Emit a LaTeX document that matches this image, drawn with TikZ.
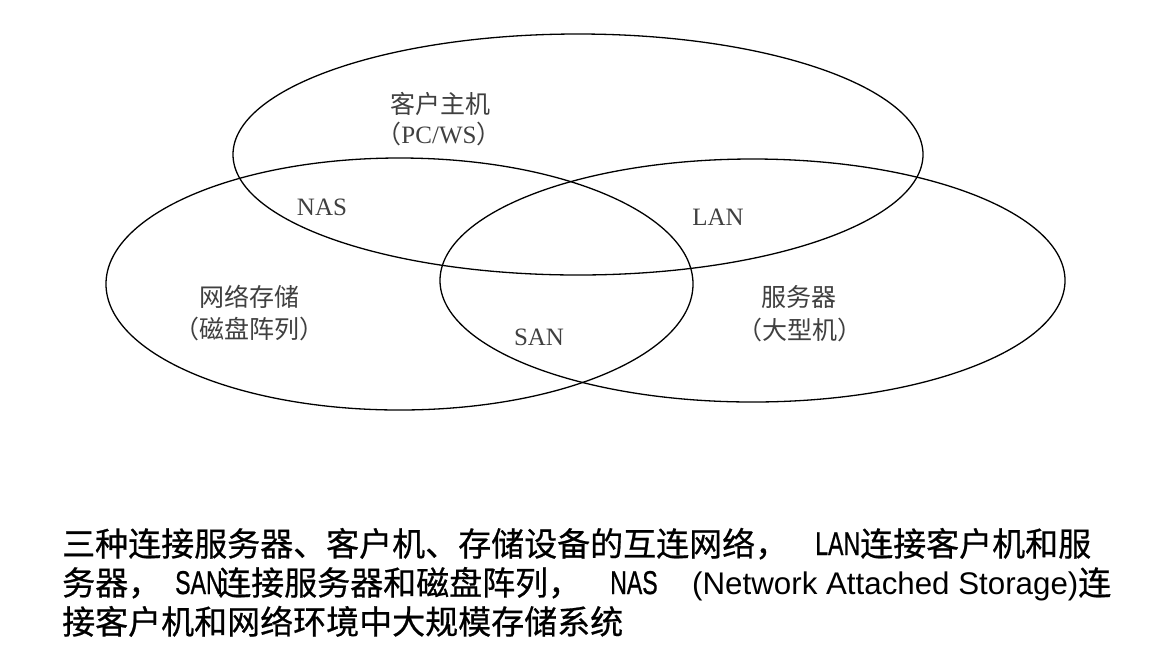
\documentclass[tikz,border=0pt]{standalone}
\usepackage{fontspec}
\usepackage{graphicx}
\setmainfont{Liberation Serif}
\newfontfamily\cjk{Noto Sans CJK SC}
\newfontfamily\cjkcap{Noto Sans CJK SC}[FakeBold=0.6]
\newfontfamily\arialf{Liberation Sans}
\newfontfamily\arialn{Liberation Sans}[FakeBold=0.8]
\newcommand\nlat[1]{\scalebox{0.7}[1]{\arialn\fontsize{33}{33}\selectfont #1}}
\begin{document}
\begin{tikzpicture}[x=1pt,y=-1pt,
  ell/.style={draw=black, line width=1.3pt},
  lbl/.style={anchor=base, inner sep=0pt, text=black!75, font=\fontsize{25}{25}\selectfont},
  capt/.style={anchor=base west, inner sep=0pt, text=black, font=\fontsize{33}{33}\selectfont}]
\useasboundingbox (0,0) rectangle (1155,657);
\fill[white] (0,0) rectangle (1155,657);
% three ellipses
\draw[ell] (578,154.5) ellipse [x radius=345, y radius=120.5];
\draw[ell] (399.5,284) ellipse [x radius=293.5, y radius=126];
\draw[ell] (752.5,280.5) ellipse [x radius=312.5, y radius=121.5];
% labels
\node[lbl] (client) at (440,113) {\cjk 客户主机};
\node[lbl] (clientsub) at (439,143) {{\cjk （}PC/WS{\cjk ）}};
\node[lbl] (nas) at (322,215) {NAS};
\node[lbl] (lan) at (718,225) {LAN};
\node[lbl] (san) at (539,345) {SAN};
\node[lbl] (storage) at (249,306) {\cjk 网络存储};
\node[lbl] (storagesub) at (249,338) {\cjk （磁盘阵列）};
\node[lbl] (server) at (799,306) {\cjk 服务器};
\node[lbl] (serversub) at (800,339) {\cjk （大型机）};
% caption line 1
\node[capt] (c1a) at (62,556) {\cjkcap 三种连接服务器、客户机、存储设备的互连网络，};
\node[capt] (c1b) at (815,555) {\nlat{LAN}};
\node[capt] (c1c) at (860,556) {\cjkcap 连接客户机和服};
% caption line 2
\node[capt] (c2a) at (62,595) {\cjkcap 务器，};
\node[capt] (c2b) at (175,594) {\nlat{SAN}};
\node[capt] (c2c) at (218,595) {\cjkcap 连接服务器和磁盘阵列，};
\node[capt] (c2d) at (610,594) {\nlat{NAS}};
\node[capt] (c2e) at (692,594) {\arialf\fontsize{31.3}{31.3}\selectfont (Network Attached Storage)};
\node[capt] (c2f) at (1078,595) {\cjkcap 连};
% caption line 3
\node[capt] (c3a) at (62,634) {\cjkcap 接客户机和网络环境中大规模存储系统};
\end{tikzpicture}
\end{document}
